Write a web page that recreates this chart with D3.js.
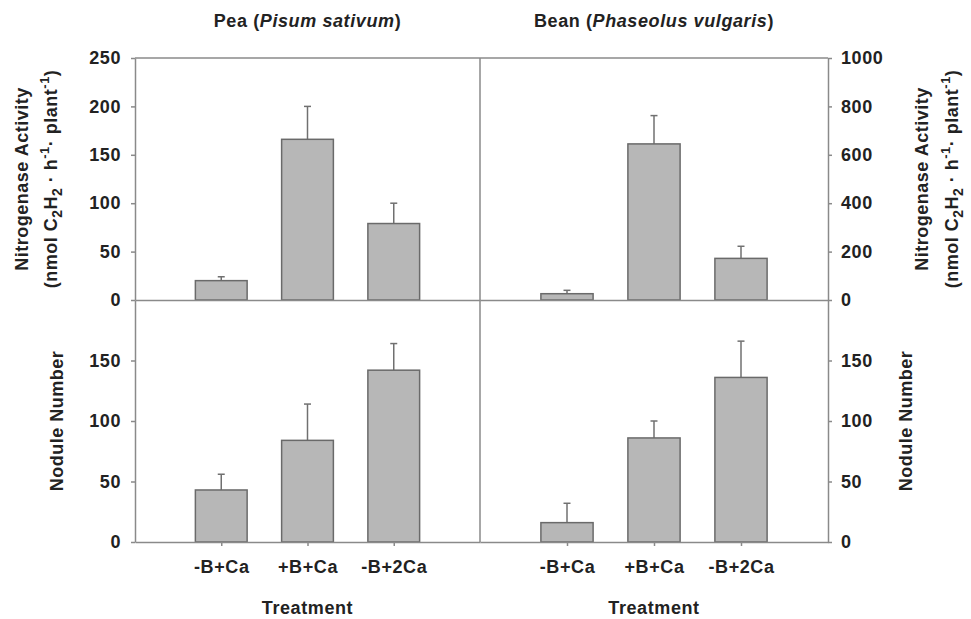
<!DOCTYPE html>
<html>
<head>
<meta charset="utf-8">
<script src="https://cdn.jsdelivr.net/npm/d3@7"></script>
<style>
  body { margin: 0; background: #fff; }
  text { font-family: "Liberation Sans", Arial, sans-serif; font-weight: bold; fill: #222; }
  .axis path, .axis line { stroke: #8a8a8a; stroke-width: 1.5; }
  .axis text { font-size: 18px; letter-spacing: 0.6px; fill: #222; }
</style>
</head>
<body>
<svg id="chart" width="971" height="619"></svg>
<script>
// treatments on the x axis
var treatments = ["-B+Ca", "+B+Ca", "-B+2Ca"];

// nitrogenase activity (nmol C2H2 / h / plant)
var peaNase = [20, 166, 79],
    peaNaseErr = [4, 34, 21],
    beanNase = [26, 645, 172],
    beanNaseErr = [14, 117, 50];

// nodule number
var peaNodule = [43, 84, 142],
    peaNoduleErr = [13, 30, 22],
    beanNodule = [16, 86, 136],
    beanNoduleErr = [16, 14, 30];

var peaNaseTicks = [0, 50, 100, 150, 200, 250],
    beanNaseTicks = [0, 200, 400, 600, 800, 1000],
    noduleTicks = [0, 50, 100, 150];

var svg = d3.select("#chart"),
    fmt = d3.format("d");

// frame positions
var xL = 135, xM = 480, xR = 828,
    yT = 58, yM = 300, yB = 542,
    barFrac = 0.6;

// x scales, one per column
var xLeft = d3.scalePoint().domain(treatments).range([xL, xM]).padding(1),
    xRight = d3.scalePoint().domain(treatments).range([xM, xR]).padding(1);

// y scales
var yPeaNase = d3.scaleLinear().domain([0, 250]).range([yM, yT]),
    yBeanNase = d3.scaleLinear().domain([0, 1000]).range([yM, yT]),
    yPeaNod = d3.scaleLinear().domain([0, 200]).range([yB, yM]),
    yBeanNod = d3.scaleLinear().domain([0, 200]).range([yB, yM]);

function drawBars(x, y, vals, errs) {
  var bw = x.step() * barFrac;
  var g = svg.append("g");
  // error bars (upper only)
  g.selectAll(".err").data(vals).enter().append("line")
      .attr("x1", function(d, i) { return x(treatments[i]); })
      .attr("x2", function(d, i) { return x(treatments[i]); })
      .attr("y1", function(d) { return y(d); })
      .attr("y2", function(d, i) { return y(d + errs[i]); })
      .attr("stroke", "#707070")
      .attr("stroke-width", 1.5);
  g.selectAll(".cap").data(vals).enter().append("line")
      .attr("x1", function(d, i) { return x(treatments[i]) - 3.5; })
      .attr("x2", function(d, i) { return x(treatments[i]) + 3.5; })
      .attr("y1", function(d, i) { return y(d + errs[i]); })
      .attr("y2", function(d, i) { return y(d + errs[i]); })
      .attr("stroke", "#707070")
      .attr("stroke-width", 1.5);
  g.selectAll("rect").data(vals).enter().append("rect")
      .attr("x", function(d, i) { return x(treatments[i]) - bw / 2; })
      .attr("y", function(d) { return y(d); })
      .attr("width", bw)
      .attr("height", function(d) { return y(0) - y(d); })
      .attr("fill", "#b7b7b7")
      .attr("stroke", "#6a6a6a")
      .attr("stroke-width", 1.5);
}

drawBars(xLeft, yPeaNase, peaNase, peaNaseErr);
drawBars(xRight, yBeanNase, beanNase, beanNaseErr);
drawBars(xLeft, yPeaNod, peaNodule, peaNoduleErr);
drawBars(xRight, yBeanNod, beanNodule, beanNoduleErr);

// frame: top border and column divider
svg.append("line").attr("class", "frame")
    .attr("x1", xL).attr("x2", xR).attr("y1", yT).attr("y2", yT);
svg.append("line").attr("class", "frame")
    .attr("x1", xM).attr("x2", xM).attr("y1", yT).attr("y2", yB);
svg.selectAll(".frame").attr("stroke", "#8a8a8a").attr("stroke-width", 1.5);

// y axes
svg.append("g").attr("class", "axis")
    .attr("transform", "translate(" + xL + ",0)")
    .call(d3.axisLeft(yPeaNase).tickValues(peaNaseTicks).tickFormat(fmt).tickSize(4).tickSizeOuter(0).tickPadding(10));
svg.append("g").attr("class", "axis")
    .attr("transform", "translate(" + xL + ",0)")
    .call(d3.axisLeft(yPeaNod).tickValues(noduleTicks).tickFormat(fmt).tickSize(4).tickSizeOuter(0).tickPadding(10));
svg.append("g").attr("class", "axis")
    .attr("transform", "translate(" + xR + ",0)")
    .call(d3.axisRight(yBeanNase).tickValues(beanNaseTicks).tickFormat(fmt).tickSize(4).tickSizeOuter(0).tickPadding(9));
svg.append("g").attr("class", "axis")
    .attr("transform", "translate(" + xR + ",0)")
    .call(d3.axisRight(yBeanNod).tickValues(noduleTicks).tickFormat(fmt).tickSize(4).tickSizeOuter(0).tickPadding(9));

// x axes: top row has no ticks, bottom row has labels
[xLeft, xRight].forEach(function(x) {
  svg.append("g").attr("class", "axis")
      .attr("transform", "translate(0," + yM + ")")
      .call(d3.axisBottom(x).tickSize(0).tickSizeOuter(0).tickFormat(""));
  svg.append("g").attr("class", "axis")
      .attr("transform", "translate(0," + yB + ")")
      .call(d3.axisBottom(x).tickSize(4).tickSizeOuter(0).tickPadding(14));
  svg.append("text")
      .attr("x", (x.range()[0] + x.range()[1]) / 2)
      .attr("y", 614)
      .attr("text-anchor", "middle")
      .style("font-size", "18px")
      .style("letter-spacing", "0.6px")
      .text("Treatment");
});

// column titles
function title(x, common, latin) {
  var t = svg.append("text")
      .attr("x", x).attr("y", 27)
      .attr("text-anchor", "middle")
      .style("font-size", "18px")
      .style("letter-spacing", "0.6px");
  t.append("tspan").text(common + " (");
  t.append("tspan").style("font-style", "italic").text(latin);
  t.append("tspan").text(")");
}
title((xL + xM) / 2, "Pea", "Pisum sativum");
title((xM + xR) / 2, "Bean", "Phaseolus vulgaris");

// rotated y labels
function yLabel(x, y, txt) {
  return svg.append("text")
      .attr("transform", "translate(" + x + "," + y + ") rotate(-90)")
      .attr("text-anchor", "middle")
      .style("font-size", "18px")
      .style("letter-spacing", "0.5px")
      .text(txt);
}

function unitLabel(x, y) {
  var t = svg.append("text")
      .attr("transform", "translate(" + x + "," + y + ") rotate(-90)")
      .attr("text-anchor", "middle")
      .style("font-size", "18px")
      .style("letter-spacing", "0.5px");
  t.append("tspan").text("(nmol C");
  t.append("tspan").attr("dy", 5).style("font-size", "14px").text("2");
  t.append("tspan").attr("dy", -5).text("H");
  t.append("tspan").attr("dy", 5).style("font-size", "14px").text("2");
  t.append("tspan").attr("dy", -5).text(" \u00b7 h");
  t.append("tspan").attr("dy", -8).style("font-size", "13px").text("-1");
  t.append("tspan").attr("dy", 8).text("\u00b7 plant");
  t.append("tspan").attr("dy", -8).style("font-size", "13px").text("-1");
  t.append("tspan").attr("dy", 8).text(")");
}

var nTop = (yT + yM) / 2, nBot = (yM + yB) / 2;
yLabel(28, nTop, "Nitrogenase Activity");
unitLabel(57, nTop);
yLabel(63, nBot, "Nodule Number");
yLabel(928, nTop, "Nitrogenase Activity");
unitLabel(958, nTop);
yLabel(912, nBot, "Nodule Number");
</script>
</body>
</html>
